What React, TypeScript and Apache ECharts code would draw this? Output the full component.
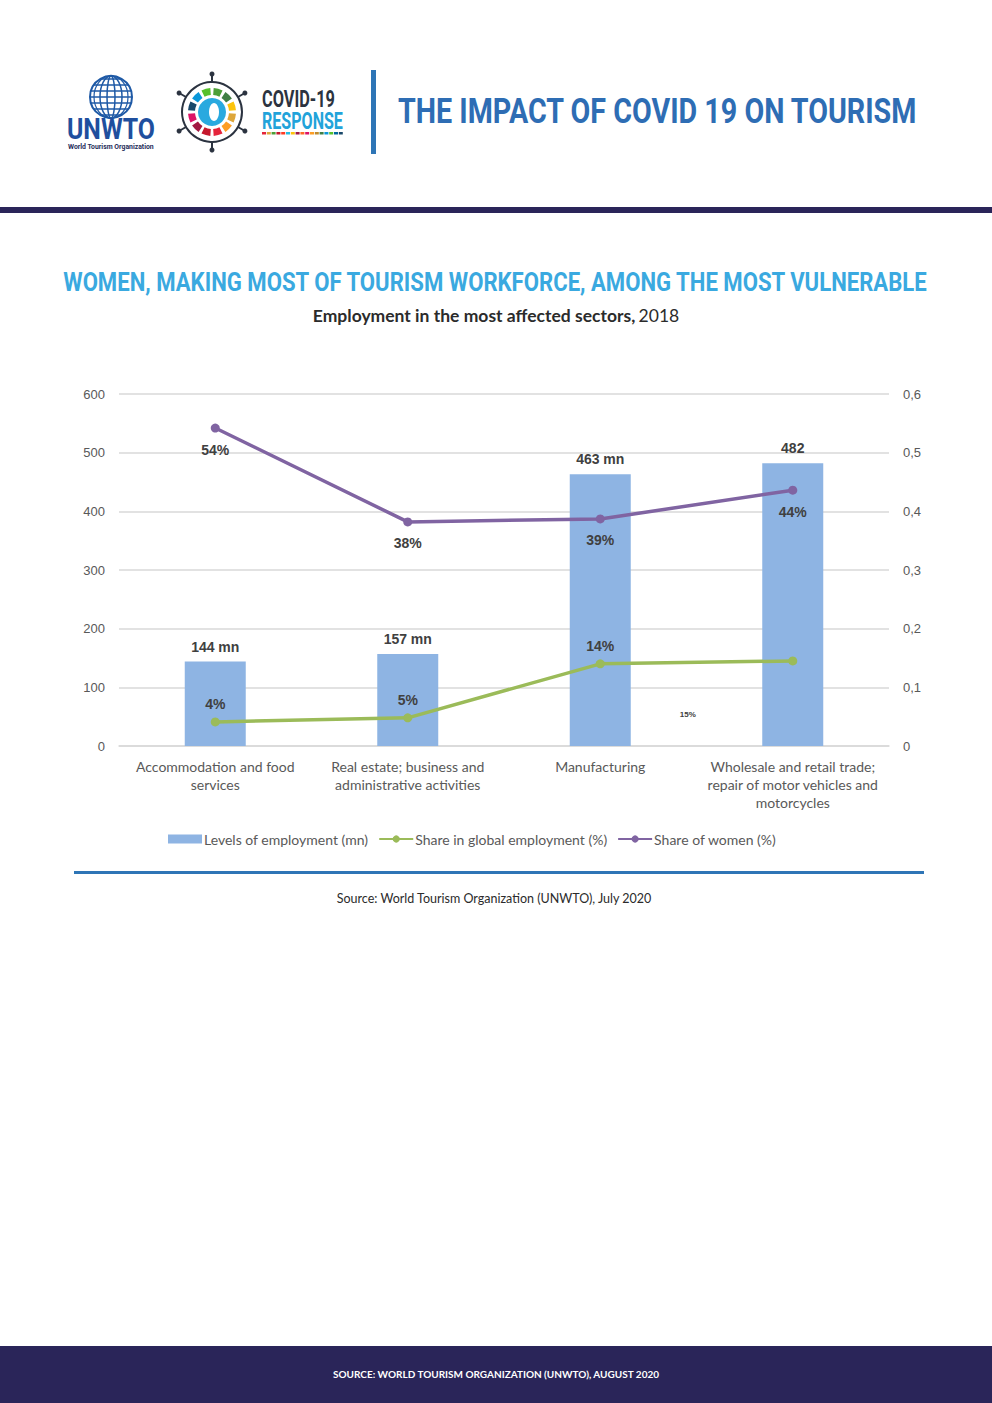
import React, { useEffect, useRef } from "react";
import * as echarts from "echarts";

const categories = [
  "Accommodation and food\nservices",
  "Real estate; business and\nadministrative activities",
  "Manufacturing",
  "Wholesale and retail trade;\nrepair of motor vehicles and\nmotorcycles",
];
const employment = [144, 157, 463, 482];
const employmentLabels = ["144 mn", "157 mn", "463 mn", "482"];
const globalShare = [0.041, 0.048, 0.14, 0.145];
const globalShareLabels = ["4%", "5%", "14%", "15%"];
const womenShare = [0.542, 0.382, 0.387, 0.436];
const womenShareLabels = ["54%", "38%", "39%", "44%"];
const leftTicks = { min: 0, max: 600, interval: 100 };
const rightTicks = { min: 0, max: 0.6, interval: 0.1 };

const sdgColors = [
  "#e5243b", "#dda63a", "#4c9f38", "#c5192d", "#ff3a21", "#26bde2",
  "#fcc30b", "#a21942", "#fd6925", "#dd1367", "#fd9d24", "#bf8b2e",
  "#3f7e44", "#0a97d9", "#56c02b", "#00689d", "#19486a",
];

function measure(text: string, font: string): number {
  const c = document.createElement("canvas").getContext("2d");
  if (!c) return text.length * 10;
  c.font = font;
  return c.measureText(text).width;
}

function fitted(text: string, size: number, target: number, x: number, y: number, fill: string, align: string) {
  const fam = "Roboto, sans-serif";
  const w = measure(text, `bold ${size}px Roboto`);
  const s = target / w;
  return {
    type: "text",
    x,
    y,
    scaleX: s,
    style: { text, fontSize: size, fontWeight: "bold", fill, fontFamily: fam, align, verticalAlign: "middle" },
  };
}

export default function App() {
  const ref = useRef<HTMLDivElement>(null);
  useEffect(() => {
    if (!ref.current) return;
    const chart = echarts.init(ref.current, null, { renderer: "svg" });

    const ringCx = 212, ringCy = 112;
    const ringSegs: any[] = [];
    const ringCols = ["#dda63a", "#fd9d24", "#e5243b", "#c5192d", "#a21942", "#dd1367", "#19486a", "#0a97d9", "#56c02b", "#4c9f38", "#3f7e44", "#fcc30b"];
    for (let i = 0; i < 12; i++) {
      const a0 = (i * 30 + 4) * Math.PI / 180;
      const a1 = (i * 30 + 26) * Math.PI / 180;
      ringSegs.push({
        type: "sector",
        shape: { cx: ringCx, cy: ringCy, r0: 17, r: 24, startAngle: a0, endAngle: a1 },
        style: { fill: ringCols[i] },
      });
    }
    const spikes: any[] = [];
    for (let i = 0; i < 6; i++) {
      const a = (i * 60 + 30) * Math.PI / 180;
      const x1 = ringCx + Math.cos(a) * 30, y1 = ringCy + Math.sin(a) * 30;
      const x2 = ringCx + Math.cos(a) * 38, y2 = ringCy + Math.sin(a) * 38;
      spikes.push({ type: "line", shape: { x1, y1, x2, y2 }, style: { stroke: "#2b3340", lineWidth: 2 } });
      spikes.push({ type: "circle", shape: { cx: x2, cy: y2, r: 2.5 }, style: { fill: "#2b3340" } });
    }
    const rainbow: any[] = [];
    for (let i = 0; i < 17; i++) {
      rainbow.push({ type: "rect", shape: { x: 262 + i * 4.8, y: 132, width: 4, height: 2.5 }, style: { fill: sdgColors[i] } });
    }

    const globe: any[] = [
      { type: "circle", shape: { cx: 111, cy: 97, r: 21 }, style: { fill: "none", stroke: "#1f5aa6", lineWidth: 2 } },
      { type: "ellipse", shape: { cx: 111, cy: 97, rx: 11, ry: 21 }, style: { fill: "none", stroke: "#1f5aa6", lineWidth: 1.5 } },
      { type: "ellipse", shape: { cx: 111, cy: 97, rx: 4, ry: 21 }, style: { fill: "none", stroke: "#1f5aa6", lineWidth: 1.5 } },
      { type: "ellipse", shape: { cx: 111, cy: 97, rx: 17, ry: 21 }, style: { fill: "none", stroke: "#1f5aa6", lineWidth: 1.2 } },
    ];
    for (let k = -3; k <= 3; k++) {
      const y = 97 + k * 6;
      const half = Math.sqrt(Math.max(0, 21 * 21 - (k * 6) * (k * 6)));
      globe.push({ type: "line", shape: { x1: 111 - half, y1: y, x2: 111 + half, y2: y }, style: { stroke: "#1f5aa6", lineWidth: 1.5 } });
    }

    const option: any = {
      animation: false,
      backgroundColor: "#ffffff",
      textStyle: { fontFamily: "Liberation Sans, Arial, sans-serif" },
      graphic: [
        ...globe,
        fitted("UNWTO", 30, 88, 67, 129, "#1f4f9e", "left"),
        fitted("World Tourism Organization", 8, 86, 68, 146, "#1f2d5a", "left"),
        ...spikes,
        { type: "circle", shape: { cx: ringCx, cy: ringCy, r: 30 }, style: { fill: "none", stroke: "#2b3340", lineWidth: 2 } },
        ...ringSegs,
        { type: "circle", shape: { cx: ringCx, cy: ringCy, r: 14 }, style: { fill: "#29a9df" } },
        { type: "ellipse", shape: { cx: ringCx + 2, cy: ringCy, rx: 5, ry: 9 }, style: { fill: "#ffffff" } },
        fitted("COVID-19", 24, 73, 262, 99, "#2b3340", "left"),
        fitted("RESPONSE", 24, 81, 262, 121, "#22a3da", "left"),
        ...rainbow,
        { type: "rect", shape: { x: 371, y: 70, width: 5, height: 84 }, style: { fill: "#2e75b6" } },
        fitted("THE IMPACT OF COVID 19 ON TOURISM", 36, 520, 398, 111, "#2e6db4", "left"),
        { type: "rect", shape: { x: 0, y: 207, width: 992, height: 6 }, style: { fill: "#2a2559" } },
        fitted("WOMEN, MAKING MOST OF TOURISM WORKFORCE, AMONG THE MOST VULNERABLE", 25, 866, 495, 283, "#3aa9e0", "center"),
        { type: "text", x: 496, y: 315, style: { rich: { b: { fontSize: 17.5, fontWeight: "bold", fill: "#2b2b2b", fontFamily: "Lato, sans-serif" }, n: { fontSize: 17.5, fill: "#2b2b2b", fontFamily: "Lato, sans-serif" } }, text: "{b|Employment in the most affected sectors,} {n|2018}", align: "center", verticalAlign: "middle" } },
        { type: "rect", shape: { x: 74, y: 871, width: 850, height: 3 }, style: { fill: "#2e75b6" } },
        { type: "text", x: 494, y: 898, style: { text: "Source: World Tourism Organization (UNWTO), July 2020", fontSize: 12.5, fill: "#2b2b2b", align: "center", verticalAlign: "middle", fontFamily: "Lato, sans-serif" } },
        { type: "rect", shape: { x: 0, y: 1346, width: 992, height: 57 }, style: { fill: "#2a2559" } },
        { type: "text", x: 496, y: 1374, style: { text: "SOURCE: WORLD TOURISM ORGANIZATION (UNWTO), AUGUST 2020", fontSize: 10, fontWeight: "bold", fill: "#ffffff", align: "center", verticalAlign: "middle", fontFamily: "Lato, sans-serif" } },
      ],
      grid: { left: 119, right: 103, top: 394, bottom: 657, containLabel: false },
      legend: {
        top: 827,
        left: 163,
        itemWidth: 34,
        itemHeight: 9,
        itemGap: 10,
        textStyle: { color: "#595959", fontSize: 14, fontFamily: "Lato, sans-serif", padding: [0, 0, 0, -3] },
        data: [
          { name: "Levels of employment (mn)", icon: "rect" },
          { name: "Share in global employment (%)" },
          { name: "Share of women (%)" },
        ],
      },
      xAxis: {
        type: "category",
        data: categories,
        axisLine: { lineStyle: { color: "#d9d9d9", width: 1.5 } },
        axisTick: { show: false },
        axisLabel: { color: "#595959", fontSize: 14, lineHeight: 18, margin: 11, interval: 0, fontFamily: "Lato, sans-serif" },
      },
      yAxis: [
        {
          type: "value",
          min: leftTicks.min,
          max: leftTicks.max,
          interval: leftTicks.interval,
          axisLine: { show: false },
          axisTick: { show: false },
          axisLabel: { color: "#595959", fontSize: 13, margin: 14 },
          splitLine: { lineStyle: { color: "#d9d9d9", width: 1.5 } },
        },
        {
          type: "value",
          min: rightTicks.min,
          max: rightTicks.max,
          interval: rightTicks.interval,
          axisLine: { show: false },
          axisTick: { show: false },
          axisLabel: {
            color: "#595959",
            fontSize: 13,
            margin: 14,
            formatter: (v: number) => (v === 0 ? "0" : v.toFixed(1).replace(".", ",")),
          },
          splitLine: { show: false },
        },
      ],
      series: [
        {
          name: "Levels of employment (mn)",
          type: "bar",
          data: employment,
          barWidth: 61,
          itemStyle: { color: "#8eb4e3" },
          label: {
            show: true,
            position: "top",
            distance: 8,
            formatter: (p: any) => employmentLabels[p.dataIndex],
            color: "#404040",
            fontSize: 14,
            fontWeight: "bold",
          },
        },
        {
          name: "Share in global employment (%)",
          type: "line",
          yAxisIndex: 1,
          data: globalShare.map((v, i) =>
            i === 3
              ? { value: v, label: { offset: [-105, 68], fontSize: 8, position: "top" } }
              : v
          ),
          symbol: "circle",
          symbolSize: 9,
          lineStyle: { color: "#9bbb59", width: 3.5 },
          itemStyle: { color: "#9bbb59" },
          label: {
            show: true,
            position: "top",
            distance: 6,
            formatter: (p: any) => globalShareLabels[p.dataIndex],
            color: "#404040",
            fontSize: 14,
            fontWeight: "bold",
          },
        },
        {
          name: "Share of women (%)",
          type: "line",
          yAxisIndex: 1,
          data: womenShare,
          symbol: "circle",
          symbolSize: 9,
          lineStyle: { color: "#8064a2", width: 3.5 },
          itemStyle: { color: "#8064a2" },
          label: {
            show: true,
            position: "bottom",
            distance: 10,
            formatter: (p: any) => womenShareLabels[p.dataIndex],
            color: "#404040",
            fontSize: 14,
            fontWeight: "bold",
          },
        },
      ],
    };
    chart.setOption(option);
    return () => chart.dispose();
  }, []);
  return (
    <div
      ref={ref}
      style={{ position: "absolute", left: 0, top: 0, width: 992, height: 1403 }}
    />
  );
}
